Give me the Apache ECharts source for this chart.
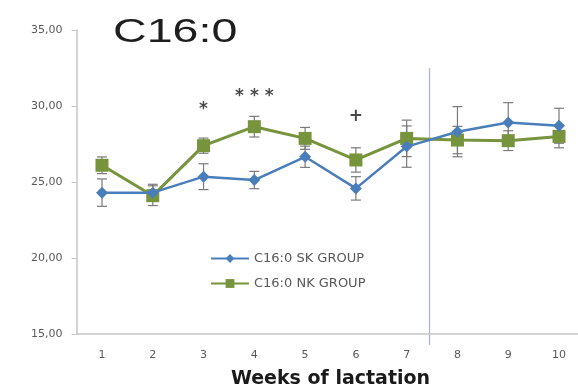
<!DOCTYPE html>
<html>
<head>
<meta charset="utf-8">
<script src="https://cdn.jsdelivr.net/npm/echarts@6/dist/echarts.min.js"></script>
<style>html,body{margin:0;padding:0;background:#fff;}#c{width:578px;height:389px;}</style>
</head>
<body>
<div id="c"></div>
<script>
var weeks = ['1','2','3','4','5','6','7','8','9','10'];
var skValues = [24.3, 24.3, 25.35, 25.13, 26.66, 24.58, 27.33, 28.31, 28.92, 28.7];
var skErrors = [0.9, 0.55, 0.85, 0.57, 0.7, 0.77, 1.36, 1.65, 1.3, 1.15];
var nkValues = [26.1, 24.1, 27.39, 28.64, 27.87, 26.45, 27.87, 27.76, 27.72, 28.0];
var nkErrors = [0.55, 0.65, 0.5, 0.68, 0.72, 0.8, 1.2, 0.9, 0.65, 0.75];
var skName = 'C16:0 SK GROUP';
var nkName = 'C16:0 NK GROUP';
var titleText = 'C16:0';
var xAxisName = 'Weeks of lactation';
var yTicks = [15, 20, 25, 30, 35];
var annotWeeks = ['3', '4', '6'];
var annotValues = [29.75, 30.6, 29.3];
var annotTexts = ['*', '* * *', '+'];
var dividerBetween = [6, 7];   // category indices (weeks 7 and 8)
var dividerFraction = 0.45;
var dividerRange = [32.5, 14.28];

var skColor = '#4a7ebb';
var nkColor = '#77933c';

function errData(vals, errs) {
  return vals.map(function (v, i) { return [i, v - errs[i], v + errs[i]]; });
}
function errRender(params, api) {
  var x = api.value(0);
  var lo = api.coord([x, api.value(1)]);
  var hi = api.coord([x, api.value(2)]);
  var w = 5;
  var st = { stroke: '#7a7a7a', lineWidth: 1.2 };
  return {
    type: 'group',
    children: [
      { type: 'line', shape: { x1: lo[0], y1: lo[1], x2: hi[0], y2: hi[1] }, style: st },
      { type: 'line', shape: { x1: lo[0] - w, y1: lo[1], x2: lo[0] + w, y2: lo[1] }, style: st },
      { type: 'line', shape: { x1: hi[0] - w, y1: hi[1], x2: hi[0] + w, y2: hi[1] }, style: st }
    ]
  };
}
function dividerRender(params, api) {
  var f = api.value(2);
  var a0 = api.coord([api.value(0), api.value(3)]);
  var a1 = api.coord([api.value(1), api.value(3)]);
  var b0 = api.coord([api.value(0), api.value(4)]);
  var x = a0[0] + (a1[0] - a0[0]) * f;
  return { type: 'line', shape: { x1: x, y1: a0[1], x2: x, y2: b0[1] }, style: { stroke: '#a9b8cc', lineWidth: 1.3 } };
}

var chart = echarts.init(document.getElementById('c'), null, { renderer: 'canvas' });
chart.setOption({
  animation: false,
  backgroundColor: '#ffffff',
  graphic: [{
    type: 'text',
    x: 113,
    y: 16,
    scaleX: 1.37,
    silent: true,
    style: {
      text: titleText,
      font: '34px "Liberation Sans", Arial, sans-serif',
      fill: '#1e1e1e',
      textVerticalAlign: 'top'
    }
  }],
  legend: {
    orient: 'vertical',
    left: 205,
    top: 247,
    itemGap: 12,
    itemWidth: 38,
    itemHeight: 11,
    data: [skName, nkName],
    textStyle: { fontFamily: 'DejaVu Sans, sans-serif', fontSize: 13, color: '#595959' }
  },
  grid: { left: 76.6, right: -6.4, top: 30, bottom: 55, containLabel: false, outerBoundsMode: 'none' },
  xAxis: {
    type: 'category',
    data: weeks,
    boundaryGap: true,
    name: xAxisName,
    nameLocation: 'middle',
    nameGap: 36,
    nameTextStyle: { fontFamily: 'DejaVu Sans, sans-serif', fontWeight: 'bold', fontSize: 19, color: '#1a1a1a' },
    axisLine: { show: true, lineStyle: { color: '#c6c6c6', width: 1.5 } },
    axisTick: { show: false },
    axisLabel: { margin: 16, fontFamily: 'DejaVu Sans, sans-serif', fontSize: 11, color: '#595959' },
    splitLine: { show: false }
  },
  yAxis: {
    type: 'value',
    min: 15,
    max: 35,
    interval: 5,
    axisLine: { show: true, lineStyle: { color: '#c6c6c6', width: 1.5 } },
    axisTick: { show: true, length: 5, lineStyle: { color: '#c6c6c6' } },
    axisLabel: {
      margin: 14,
      fontFamily: 'DejaVu Sans, sans-serif',
      fontSize: 11,
      color: '#595959',
      formatter: function (v) { return yTicks.indexOf(v) >= 0 ? v.toFixed(2).replace('.', ',') : ''; }
    },
    splitLine: { show: false }
  },
  series: [
    {
      name: 'divider', type: 'custom', renderItem: dividerRender,
      data: [[dividerBetween[0], dividerBetween[1], dividerFraction, dividerRange[0], dividerRange[1]]],
      z: 0, silent: true, clip: false
    },
    {
      name: 'errSK', type: 'custom', renderItem: errRender, data: errData(skValues, skErrors), z: 1, silent: true
    },
    {
      name: 'errNK', type: 'custom', renderItem: errRender, data: errData(nkValues, nkErrors), z: 1, silent: true
    },
    {
      name: skName,
      type: 'line',
      data: skValues,
      symbol: 'diamond',
      symbolSize: 12,
      color: skColor,
      lineStyle: { width: 2.5, color: skColor },
      itemStyle: { color: skColor },
      z: 3
    },
    {
      name: nkName,
      type: 'line',
      data: nkValues,
      symbol: 'rect',
      symbolSize: 13,
      color: nkColor,
      lineStyle: { width: 3, color: nkColor },
      itemStyle: { color: nkColor },
      z: 2
    },
    {
      name: 'annot',
      type: 'scatter',
      symbolSize: 0,
      data: annotWeeks.map(function (w, i) { return { value: [w, annotValues[i]], label: { formatter: annotTexts[i] } }; }),
      label: { show: true, position: 'inside', fontFamily: 'DejaVu Sans, sans-serif', fontSize: 17, fontWeight: 'bold', color: '#1a1a1a' },
      silent: true
    }
  ]
});
</script>
</body>
</html>
